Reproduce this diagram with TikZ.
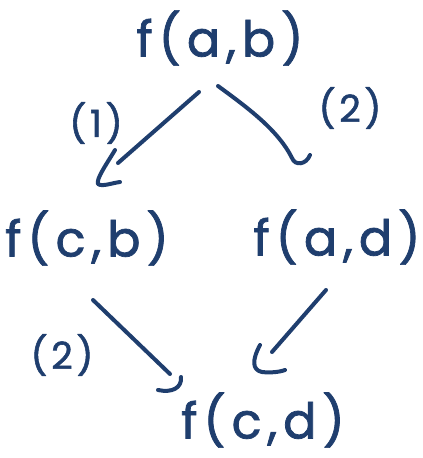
\documentclass[tikz,border=0pt]{standalone}
\usepackage{fontspec}
\setmainfont{Poppins}
\usetikzlibrary{calc}
\definecolor{ink}{HTML}{1F3E6E}
\begin{document}
\begin{tikzpicture}[x=0.75pt,y=-0.75pt,
  term/.style={text=ink,font=\fontsize{37}{40}\selectfont\addfontfeature{LetterSpace=12,FakeBold=1.5},inner sep=0pt},
  lab/.style={text=ink,font=\fontsize{28}{30}\selectfont\addfontfeature{LetterSpace=10,FakeBold=1.5},inner sep=0pt},
  stroke/.style={draw=ink,line width=3pt,line cap=round,line join=round}]
\useasboundingbox[fill=white] (0,0) rectangle (423,458);
\node[term] (ab) at (220,38) {f(a,b)};
\node[term] (cb) at (87,238) {f(c,b)};
\node[term] (ad) at (337,237) {f(a,d)};
\node[term] (cd) at (263,420) {f(c,d)};
\node[lab] (l1) at (96,123) {(1)};
\node[lab] (l2) at (350,108) {(2)};
\node[lab] (l3) at (62,355) {(2)};
% (1): f(a,b) -> f(c,b)
\coordinate (s1) at ($(ab.center)+(-21,54)$);
\coordinate (e1) at ($(cb.center)+(31,-75)$);
\draw[stroke] (s1) -- (e1);
\draw[stroke] ($(e1)+(-3,-13)$) .. controls ($(e1)+(-12,2)$) and ($(e1)+(-22,16)$) .. ($(e1)+(-20,21)$)
  .. controls ($(e1)+(-16,24)$) and ($(e1)+(-6,20)$) .. ($(e1)+(2,19)$);
% (2): f(a,b) -> f(a,d)
\coordinate (s2) at ($(ab.center)+(-2,48)$);
\coordinate (e2) at ($(ad.center)+(-45,-79)$);
\draw[stroke] (s2) .. controls ($(s2)+(30,22)$) and ($(e2)+(-14,-28)$) .. (e2)
  .. controls ($(e2)+(3,8)$) and ($(e2)+(14,7)$) .. ($(e2)+(18,-3)$);
% (2): f(c,b) -> f(c,d)
\coordinate (s3) at ($(cb.center)+(6,62)$);
\coordinate (e3) at ($(cd.center)+(-93,-46)$);
\draw[stroke] (s3) -- (e3);
\draw[stroke] ($(e3)+(11,3)$) .. controls ($(e3)+(12,14)$) and ($(e3)+(2,19)$) .. ($(e3)+(-12,16)$);
% f(a,d) -> f(c,d)
\coordinate (s4) at ($(ad.center)+(-11,53)$);
\coordinate (e4) at ($(cd.center)+(9,-68)$);
\draw[stroke] (s4) -- (e4);
\draw[stroke] ($(e4)+(-12,-7)$) .. controls ($(e4)+(-20,8)$) and ($(e4)+(-20,18)$) .. ($(e4)+(-10,20)$)
  .. controls ($(e4)+(-2,21)$) and ($(e4)+(8,20)$) .. ($(e4)+(13,18)$);
\end{tikzpicture}
\end{document}
